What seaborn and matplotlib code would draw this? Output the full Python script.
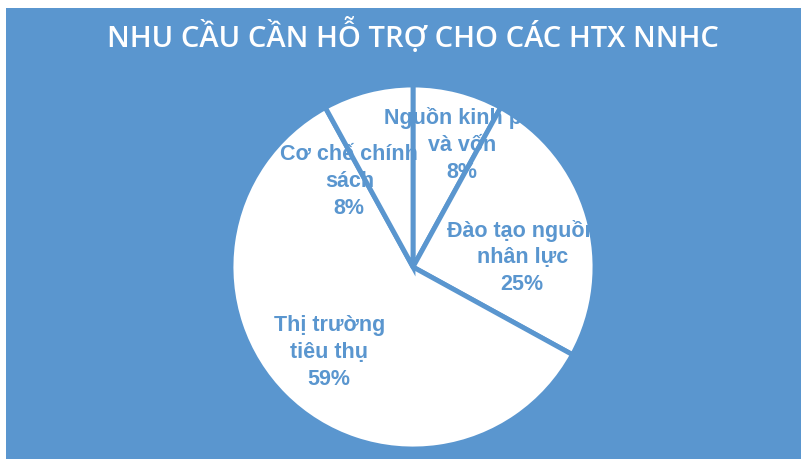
import matplotlib
matplotlib.use("Agg")
import matplotlib.pyplot as plt
import seaborn as sns
from matplotlib.patches import Rectangle

sns.set_style("white")

categories = ["Nguồn kinh phí\nvà vốn", "Đào tạo nguồn\nnhân lực", "Thị trường\ntiêu thụ", "Cơ chế chính\nsách"]
values = [8, 25, 59, 8]
title = "NHU CẦU CẦN HỖ TRỢ CHO CÁC HTX NNHC"

BLUE = "#5A96CF"
label_pos = [(0.27, 0.67), (0.60, 0.05), (-0.46, -0.47), (-0.35, 0.47)]
LINE_STEP = 19.5  # points between label lines

W, H = 801, 462
fig = plt.figure(figsize=(W / 100, H / 100), dpi=100)
fig.patch.set_facecolor("white")
fig.patches.append(Rectangle((6 / W, 3 / H), 1 - 6 / W, 1 - 11 / H,
                             transform=fig.transFigure, facecolor=BLUE,
                             edgecolor="none", zorder=-5))

cx, cy, r = 413, H - 267, 182
ax = fig.add_axes([(cx - r) / W, (cy - r) / H, 2 * r / W, 2 * r / H])
ax.set_zorder(2)
ax.set_facecolor("none")
ax.pie(values, startangle=90, counterclock=False, radius=1,
       colors=["white"] * len(values),
       wedgeprops=dict(edgecolor=BLUE, linewidth=3.5))
ax.set_xlim(-1, 1)
ax.set_ylim(-1, 1)
ax.set_aspect("equal")
ax.axis("off")

for cat, v, (x, y) in zip(categories, values, label_pos):
    lines = f"{cat}\n{v}%".split("\n")
    n = len(lines)
    for i, line in enumerate(lines):
        off = ((n - 1) / 2 - i) * LINE_STEP
        ax.annotate(line, (x, y), xytext=(0, off), textcoords="offset points",
                    ha="center", va="center", color=BLUE, fontsize=15.5,
                    fontweight="bold", family="Liberation Sans")

fig.text(cx / W, 1 - 36 / H, title, ha="center", va="center", color="white",
         fontsize=21, fontweight="semibold", family="Open Sans", zorder=3)

fig.savefig("out.png", dpi=100)
